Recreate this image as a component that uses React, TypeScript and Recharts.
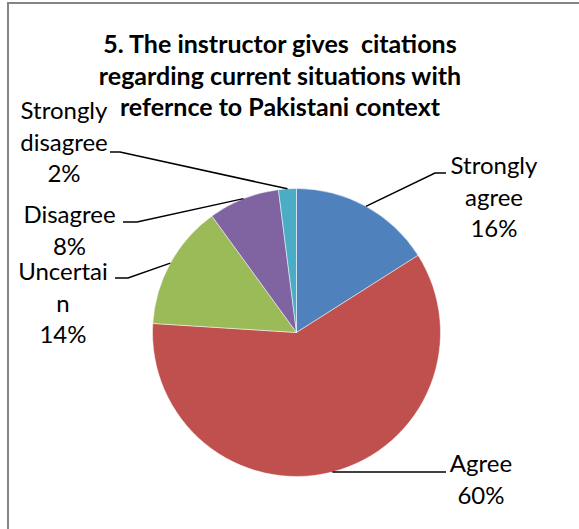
import { PieChart, Pie, Cell } from "recharts";

const CATEGORIES = ["Strongly agree", "Agree", "Uncertain", "Disagree", "Strongly disagree"];
const PERCENTS = [16, 60, 14, 8, 2];
// how Excel wrapped each category label
const LABEL_LINES = [["Strongly", "agree"], ["Agree"], ["Uncertai", "n"], ["Disagree"], ["Strongly", "disagree"]];
const TITLE_LINES = [
  "5. The instructor gives  citations",
  "regarding current situations with",
  "refernce to Pakistani context",
];

// Office 2007 palette
const COLORS = ["#4F81BD", "#C0504D", "#9BBB59", "#8064A2", "#4BACC6"];

// label placement relative to pie centre: elbow of leader, end of short tail, text centre x, first baseline
const LAYOUT = [
  { elbow: [138.5, -159.5], tail: [149.5, -159.5], tx: 197.5, ty: -158.5 },
  { elbow: [149.5, 139.5], tail: [149.5, 139.5], tx: 184.5, ty: 139.5 },
  { elbow: [-168.5, -54.5], tail: [-181.5, -54.5], tx: -233.5, ty: -52.5 },
  { elbow: [-159.5, -110.5], tail: [-173.5, -110.5], tx: -227, ty: -109.5 },
  { elbow: [-176.5, -180.5], tail: [-186.5, -180.5], tx: -232.5, ty: -213.5 },
];

const data = CATEGORIES.map((name, i) => ({ name, value: PERCENTS[i] }));

const FONT = "Lato, 'Open Sans', sans-serif";
const LINE_H = 31.5;
const RAD = Math.PI / 180;

const renderLabel = (props: any) => {
  const { cx, cy, midAngle, outerRadius, index } = props;
  const lay = LAYOUT[index];
  const ex = cx + outerRadius * Math.cos(-midAngle * RAD);
  const ey = cy + outerRadius * Math.sin(-midAngle * RAD);
  const pts = [
    [ex, ey],
    [cx + lay.elbow[0], cy + lay.elbow[1]],
    [cx + lay.tail[0], cy + lay.tail[1]],
  ];
  const lines = [...LABEL_LINES[index], `${PERCENTS[index]}%`];
  return (
    <g key={`lbl-${index}`}>
      <polyline points={pts.map((p) => p.join(",")).join(" ")} fill="none" stroke="#000" strokeWidth={1.5} />
      <text textAnchor="middle" fontFamily={FONT} fontSize={24} fill="#000">
        {lines.map((t, j) => (
          <tspan key={j} x={cx + lay.tx} y={cy + lay.ty + j * LINE_H}>
            {t}
          </tspan>
        ))}
      </text>
    </g>
  );
};

const App = () => {
  return (
    <div style={{ position: "absolute", left: 0, top: 0, width: 579, height: 529, background: "#fff", overflow: "hidden" }}>
      <div
        style={{
          position: "absolute",
          left: 7,
          top: 2,
          width: 572,
          height: 527,
          borderTop: "2px solid #858585",
          borderLeft: "2px solid #858585",
        }}
      />
      <div
        style={{
          position: "absolute",
          left: 0,
          width: 560,
          top: 28,
          textAlign: "center",
          fontFamily: FONT,
          fontWeight: 700,
          fontSize: 25,
          lineHeight: "31.5px",
          color: "#000",
          whiteSpace: "pre",
        }}
      >
        {TITLE_LINES.map((t, i) => (
          <div key={i}>{t}</div>
        ))}
      </div>
      <div style={{ position: "absolute", left: 0, top: 0 }}>
        <PieChart width={579} height={529} margin={{ top: 0, right: 0, bottom: 0, left: 0 }}>
          <Pie
            data={data}
            dataKey="value"
            nameKey="name"
            cx={296.5}
            cy={332.5}
            outerRadius={144}
            startAngle={90}
            endAngle={-270}
            stroke="#ffffff"
            strokeWidth={0.5}
            label={renderLabel}
            labelLine={false}
            isAnimationActive={false}
          >
            {data.map((d, i) => (
              <Cell key={d.name} fill={COLORS[i]} />
            ))}
          </Pie>
        </PieChart>
      </div>
    </div>
  );
};

export default App;
